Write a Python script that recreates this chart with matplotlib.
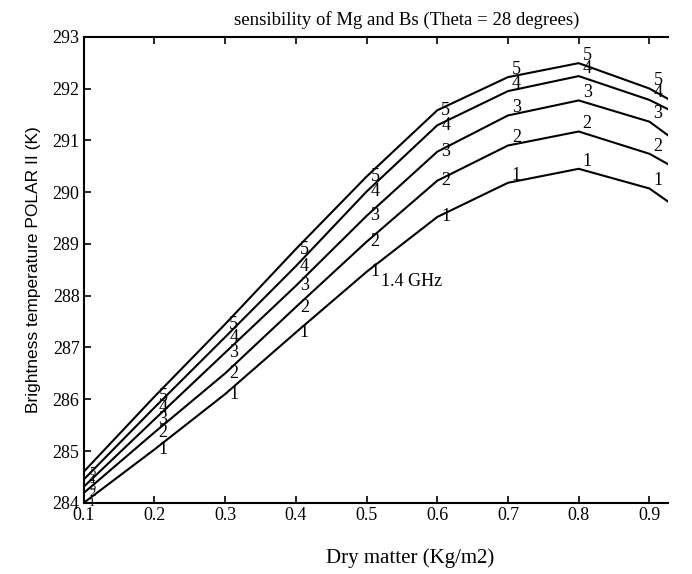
import matplotlib.pyplot as plt

# Matière sèche (kg/m2) et température de brillance pour chaque courbe
x = [0.1, 0.2, 0.3, 0.4, 0.5, 0.6, 0.7, 0.8, 0.9, 1.0]
curve1 = [284.00, 285.03, 286.10, 287.29, 288.46, 289.52, 290.18, 290.45, 290.07, 289.11]
curve2 = [284.19, 285.36, 286.50, 287.78, 289.04, 290.22, 290.90, 291.17, 290.74, 289.98]
curve3 = [284.31, 285.61, 286.90, 288.19, 289.54, 290.78, 291.48, 291.77, 291.36, 290.36]
curve4 = [284.45, 285.84, 287.20, 288.57, 290.01, 291.29, 291.95, 292.24, 291.78, 291.10]
curve5 = [284.60, 286.05, 287.45, 288.90, 290.30, 291.58, 292.22, 292.49, 292.00, 291.24]
courbes = [curve1, curve2, curve3, curve4, curve5]
noms = ['1', '2', '3', '4', '5']

xticks = [0.1, 0.2, 0.3, 0.4, 0.5, 0.6, 0.7, 0.8, 0.9]
yticks = [284, 285, 286, 287, 288, 289, 290, 291, 292, 293]

serif = 'Liberation Serif'

fig = plt.figure(figsize=(6.92, 5.74), dpi=100)
ax = fig.add_axes([0.121, 0.124, 0.844, 0.812])

for c, nom in zip(courbes, noms):
    ax.plot(x, c, color='black', linewidth=1.5)
    for xi, yi in zip(x[:9], c[:9]):
        # les étiquettes de droite sont posées un peu au-dessus de la courbe
        dy = 0.15 if xi >= 0.65 else 0.0
        fs = 9 if xi < 0.15 else 13
        ax.text(xi + 0.012, yi + dy, nom, fontsize=fs, family=serif,
                ha='center', va='center')

ax.text(0.52, 288.28, '1.4 GHz', fontsize=13, family=serif, ha='left', va='center')

ax.set_xlim(0.1, 0.926)
ax.set_ylim(284, 293)
ax.set_xticks(xticks)
ax.set_xticklabels(['0.1', '0.2', '0.3', '0.4', '0.5', '0.6', '0.7', '0.8', '0.9'],
                   family=serif, fontsize=13)
ax.set_yticks(yticks)
ax.set_yticklabels([str(v) for v in yticks], family=serif, fontsize=13)
ax.tick_params(direction='in', top=True, length=5, width=1.2, pad=3)
ax.spines['right'].set_visible(False)
for s in ['left', 'bottom', 'top']:
    ax.spines[s].set_linewidth(1.5)

fig.text(407 / 692, 1 - 20 / 574, 'sensibility of Mg and Bs (Theta = 28 degrees)',
         family=serif, fontsize=13.5, ha='center', va='center')
fig.text(410 / 692, 1 - 558 / 574, 'Dry matter (Kg/m2)', family=serif,
         fontsize=15, ha='center', va='center')
ax.set_ylabel('Brightness temperature POLAR II (K)', family='Liberation Sans',
              fontsize=12.5, labelpad=8)

fig.savefig('out.png', dpi=100)
